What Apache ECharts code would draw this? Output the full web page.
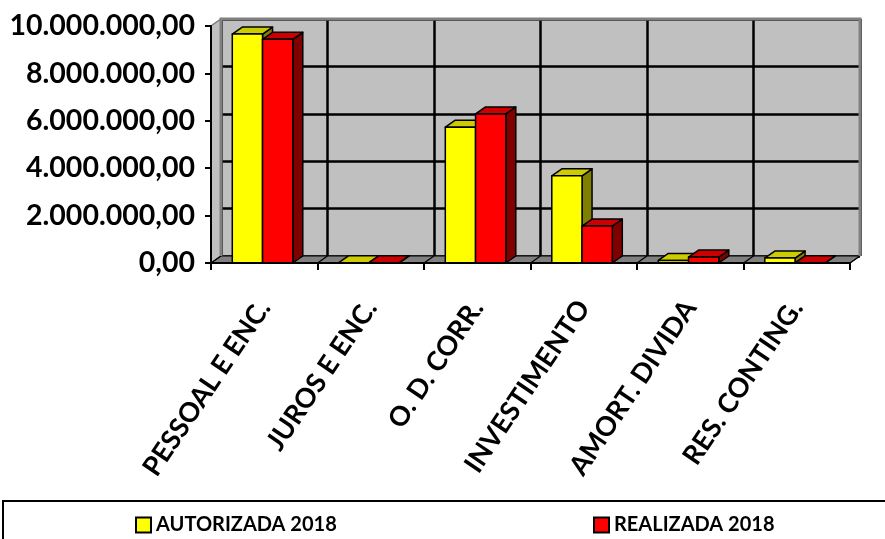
<!DOCTYPE html>
<html>
<head>
<meta charset="utf-8">
<script src="https://cdn.jsdelivr.net/npm/echarts@6/dist/echarts.min.js"></script>
<style>html,body{margin:0;padding:0;background:#fff;}#c{width:885px;height:539px;}</style>
</head>
<body>
<div id="c"></div>
<script>
// ---- data ----
const categories = ['PESSOAL E ENC.', 'JUROS E ENC.', 'O. D. CORR.', 'INVESTIMENTO', 'AMORT. DIVIDA', 'RES. CONTING.'];
const seriesNames = ['AUTORIZADA 2018', 'REALIZADA 2018'];
const autorizada = [9660000, 15000, 5730000, 3680000, 110000, 210000];
const realizada = [9440000, 15000, 6290000, 1560000, 250000, 10000];
const yMin = 0, yMax = 10000000, yStep = 2000000;

// ---- layout ----
const FONT = 'Lato, "Open Sans", sans-serif';
const FL = 211, FR = 850, FT = 26, FB = 263;  // front plot rectangle
const DX = 10, DY = 7;                         // depth offset
const W = 885, H = 539;

function fmt(v) {
  return Math.round(v).toString().replace(/\B(?=(\d{3})+(?!\d))/g, '.') + ',00';
}

const faceColors = [
  { front: '#FFFF00', top: '#CCCC00', side: '#808000' },
  { front: '#FF0000', top: '#CC0000', side: '#800000' }
];

function makeRender(si) {
  return function (params, api) {
    const ci = api.value(0), v = api.value(1);
    const b = api.coord([ci, 0]);
    const t = api.coord([ci, v]);
    const band = api.size([1, 0])[0];
    const w = band * 0.284;
    const x0 = b[0] - band * 0.3 + si * w;
    const yb = b[1], yt = t[1];
    const c = faceColors[si];
    const st = { stroke: '#000', lineWidth: 1.5, lineJoin: 'round' };
    return {
      type: 'group',
      children: [
        { type: 'polygon', shape: { points: [[x0 + w, yt], [x0 + w, yb], [x0 + w + DX, yb - DY], [x0 + w + DX, yt - DY]] }, style: Object.assign({ fill: c.side }, st) },
        { type: 'polygon', shape: { points: [[x0, yt], [x0 + w, yt], [x0 + w + DX, yt - DY], [x0 + DX, yt - DY]] }, style: Object.assign({ fill: c.top }, st) },
        { type: 'rect', shape: { x: x0, y: yt, width: w, height: yb - yt }, style: Object.assign({ fill: c.front }, st) }
      ]
    };
  };
}

// decorations: floor, left wall, wall border, floor lines
const n = categories.length;
const catW = (FR - FL) / n;
const graphics = [];
graphics.push({ type: 'polygon', z: 1, shape: { points: [[FL, FB], [FL, FT], [FL + DX, FT - DY], [FL + DX, FB - DY]] }, style: { fill: '#C0C0C0', stroke: '#808080', lineWidth: 1.5 } });
graphics.push({ type: 'polygon', z: 1, shape: { points: [[FL, FB], [FR, FB], [FR + DX, FB - DY], [FL + DX, FB - DY]] }, style: { fill: '#808080', stroke: '#000', lineWidth: 1 } });
for (let k = 0; k <= n; k++) {
  const x = FL + k * catW;
  graphics.push({ type: 'line', z: 1, shape: { x1: x, y1: FB, x2: x + DX, y2: FB - DY }, style: { stroke: '#000', lineWidth: 1.2 } });
}
graphics.push({ type: 'polyline', z: 5, shape: { points: [[FL + DX, FB - DY], [FL + DX, FT - DY], [FR + DX, FT - DY], [FR + DX, FB - DY]] }, style: { stroke: '#808080', lineWidth: 3, fill: null } });
graphics.push({ type: 'rect', z: 5, shape: { x: 3, y: 501, width: 900, height: 60 }, style: { fill: null, stroke: '#000', lineWidth: 2 } });

const chart = echarts.init(document.getElementById('c'), null, { renderer: 'canvas' });
chart.setOption({
  animation: false,
  backgroundColor: '#fff',
  textStyle: { fontFamily: FONT },
  grid: [
    { left: FL + DX, right: W - FR - DX, top: FT - DY, bottom: H - FB + DY, show: true, backgroundColor: '#C0C0C0', borderWidth: 0 },
    { left: FL, right: W - FR, top: FT, bottom: H - FB }
  ],
  xAxis: [
    { gridIndex: 0, type: 'category', data: categories, axisLine: { show: false }, axisTick: { show: false, interval: 0 }, axisLabel: { show: false, interval: 0 },
      splitLine: { show: true, interval: 0, lineStyle: { color: '#000', width: 2.5 } } },
    { gridIndex: 1, type: 'category', data: categories,
      axisLine: { show: true, lineStyle: { color: '#000', width: 2 } },
      axisTick: { show: true, interval: 0, length: 7, lineStyle: { color: '#000', width: 2 } },
      axisLabel: { rotate: 56, margin: 40, fontSize: 27, fontWeight: 'bold', color: '#000', fontFamily: FONT, interval: 0 },
      splitLine: { show: false }, z: 6 }
  ],
  yAxis: [
    { gridIndex: 0, type: 'value', min: yMin, max: yMax, interval: yStep, axisLine: { show: false }, axisTick: { show: false }, axisLabel: { show: false },
      splitLine: { show: true, lineStyle: { color: '#000', width: 2.5 } } },
    { gridIndex: 1, type: 'value', min: yMin, max: yMax, interval: yStep,
      axisLine: { show: true, lineStyle: { color: '#000', width: 2 } },
      axisTick: { show: true, length: 6, lineStyle: { color: '#000', width: 2 } },
      axisLabel: { margin: 16, fontSize: 28.5, fontWeight: 'bold', color: '#000', fontFamily: FONT, formatter: fmt },
      splitLine: { show: false }, z: 6 }
  ],
  legend: [
    { data: [seriesNames[0]], left: 130, top: 510, icon: 'rect', itemWidth: 15, itemHeight: 15, itemGap: 4,
      textStyle: { fontSize: 20, fontWeight: 'bold', color: '#000', fontFamily: FONT } },
    { data: [seriesNames[1]], left: 588, top: 510, icon: 'rect', itemWidth: 15, itemHeight: 15, itemGap: 4,
      textStyle: { fontSize: 20, fontWeight: 'bold', color: '#000', fontFamily: FONT } }
  ],
  graphic: graphics,
  series: [
    { name: seriesNames[0], type: 'custom', xAxisIndex: 1, yAxisIndex: 1, z: 3, renderItem: makeRender(0),
      itemStyle: { color: '#FFFF00', borderColor: '#000', borderWidth: 1.5 },
      encode: { x: 0, y: 1 }, data: autorizada.map((v, i) => [i, v]) },
    { name: seriesNames[1], type: 'custom', xAxisIndex: 1, yAxisIndex: 1, z: 4, renderItem: makeRender(1),
      itemStyle: { color: '#FF0000', borderColor: '#000', borderWidth: 1.5 },
      encode: { x: 0, y: 1 }, data: realizada.map((v, i) => [i, v]) }
  ]
});
</script>
</body>
</html>
